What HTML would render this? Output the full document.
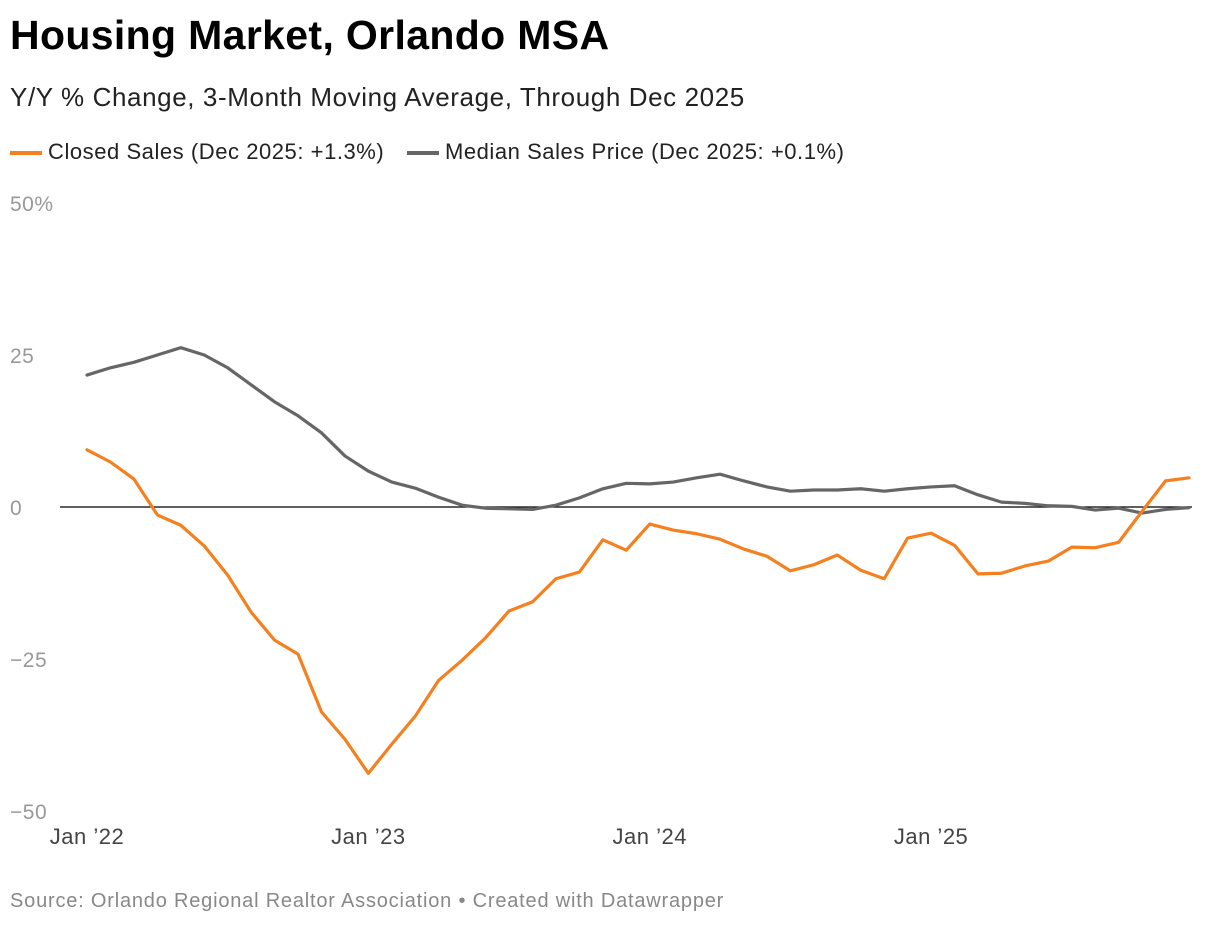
<!DOCTYPE html>
<html><head><meta charset="utf-8">
<style>
body{margin:0;width:1220px;height:926px;background:#fff;font-family:"Liberation Sans",Arial,sans-serif;overflow:hidden;position:relative}
.t{position:absolute;left:10px;white-space:nowrap}
</style></head>
<body>
<div class="t" style="top:12px;font-size:41px;letter-spacing:0.35px;font-weight:bold;color:#000">Housing Market, Orlando MSA</div>
<div class="t" style="top:82px;font-size:26px;letter-spacing:0.6px;color:#222">Y/Y % Change, 3-Month Moving Average, Through Dec 2025</div>
<div class="t" style="top:139px;font-size:22px;letter-spacing:0.55px;color:#222">
<span><span style="display:inline-block;width:32px;height:4px;background:#f5801f;vertical-align:middle;margin-right:6px"></span>Closed Sales (Dec 2025: +1.3%)</span>
<span style="margin-left:16px"><span style="display:inline-block;width:32px;height:4px;background:#666;vertical-align:middle;margin-right:6px"></span>Median Sales Price (Dec 2025: +0.1%)</span>
</div>
<svg id="chart" width="1220" height="926" style="position:absolute;left:0;top:0"></svg>
<div class="t" style="top:890px;font-size:20px;letter-spacing:0.8px;color:#888">Source: Orlando Regional Realtor Association • Created with Datawrapper</div>
<script>
const closedSales=[9.4,7.4,4.6,-1.3,-3.0,-6.4,-11.2,-17.3,-21.9,-24.2,-33.7,-38.2,-43.8,-39.0,-34.4,-28.5,-25.2,-21.5,-17.1,-15.6,-11.8,-10.7,-5.4,-7.1,-2.8,-3.8,-4.4,-5.3,-6.9,-8.1,-10.5,-9.5,-7.9,-10.4,-11.8,-5.1,-4.3,-6.3,-11.0,-10.9,-9.7,-8.9,-6.6,-6.7,-5.8,-0.7,4.3,4.8];
const medianPrice=[21.7,22.9,23.8,25.0,26.2,25.0,22.9,20.1,17.3,15.0,12.2,8.4,5.9,4.1,3.1,1.6,0.3,-0.2,-0.3,-0.4,0.3,1.5,3.0,3.9,3.8,4.1,4.8,5.4,4.3,3.3,2.6,2.8,2.8,3.0,2.6,3.0,3.3,3.5,2.0,0.8,0.6,0.2,0.1,-0.5,-0.2,-1.0,-0.4,-0.1];
const yTicks=[50,25,0,-25,-50];
const yTickLabels=["50%","25","0","−25","−50"];
const xTickIdx=[0,12,24,36];
const xTickLabels=["Jan ’22","Jan ’23","Jan ’24","Jan ’25"];
const NS="http://www.w3.org/2000/svg";
const svg=document.getElementById('chart');
const x=i=>87+i*(1189-87)/47;
const y=v=>507-v*(304/50);
function mk(tag,attrs){const e=document.createElementNS(NS,tag);for(const k in attrs)e.setAttribute(k,attrs[k]);svg.appendChild(e);return e;}
yTicks.forEach((v,k)=>{
  const t=mk('text',{x:10,y:y(v)+8,'font-size':21,'letter-spacing':0.5,fill:'#999','font-family':'Liberation Sans, Arial, sans-serif'});
  t.textContent=yTickLabels[k];
  
  
});
const zl=mk('line',{x1:60,x2:1192,y1:y(0),y2:y(0),stroke:'#000','stroke-width':1.3});


xTickIdx.forEach((i,k)=>{
  const t=mk('text',{x:x(i),y:844,'font-size':22,'letter-spacing':0.5,fill:'#444','text-anchor':'middle','font-family':'Liberation Sans, Arial, sans-serif'});
  t.textContent=xTickLabels[k];
  
  
});
function line(arr,color,name){
  const p=mk('polyline',{points:arr.map((v,i)=>x(i)+','+y(v)).join(' '),fill:'none',stroke:color,'stroke-width':3.2,'stroke-linejoin':'round','stroke-linecap':'round'});
  
  
}
line(medianPrice,'#666','median-sales-price-line');
line(closedSales,'#f5801f','closed-sales-line');
</script>
</body></html>
